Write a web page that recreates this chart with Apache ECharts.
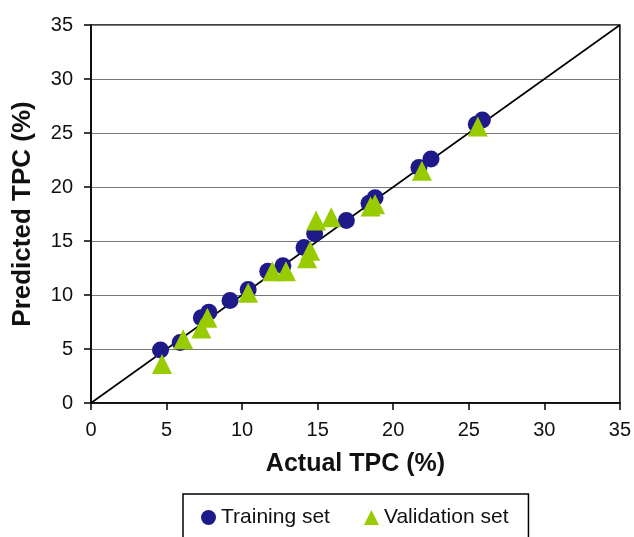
<!DOCTYPE html>
<html><head><meta charset="utf-8">
<script src="https://cdn.jsdelivr.net/npm/echarts@6/dist/echarts.min.js"></script>
<style>html,body{margin:0;padding:0;background:#fff}#c{width:634px;height:537px}</style>
</head><body><div id="c"></div>
<script>
const xTicks = [0,5,10,15,20,25,30,35];
const yTicks = [0,5,10,15,20,25,30,35];
const trainingSet = [
  [4.6,4.9],[5.9,5.6],[7.3,7.9],[7.8,8.4],[9.2,9.5],[10.4,10.5],
  [11.7,12.2],[12.7,12.7],[14.1,14.4],[14.8,15.7],[16.9,16.9],
  [18.4,18.5],[18.8,19.0],[21.7,21.8],[22.5,22.6],[25.5,25.8],[25.9,26.2]
];
const validationSet = [
  [4.7,3.6],[6.1,5.9],[7.3,6.9],[7.7,7.9],[10.4,10.2],[12.0,12.2],
  [12.9,12.2],[14.3,13.4],[14.5,14.1],[14.9,16.9],[15.9,17.2],
  [18.5,18.2],[18.8,18.4],[21.9,21.5],[25.6,25.6]
];
const identityLine = [[0,0],[35,35]];
const chart = echarts.init(document.getElementById('c'));
const font = 'Liberation Sans, Arial, sans-serif';
chart.setOption({
  animation:false,
  grid:{left:91,right:13,top:25,bottom:134,show:true,borderColor:'#000',borderWidth:1.5},
  xAxis:{type:'value',min:xTicks[0],max:xTicks[xTicks.length-1],interval:5,
    name:'Actual TPC (%)',nameLocation:'middle',nameGap:49,
    nameTextStyle:{fontFamily:font,fontSize:25,fontWeight:'bold',color:'#111'},
    axisLine:{show:true,lineStyle:{color:'#000',width:1.5}},
    axisTick:{show:true,length:7,lineStyle:{color:'#000',width:1.5}},
    axisLabel:{fontFamily:font,fontSize:20,color:'#111',margin:17},
    splitLine:{show:false}},
  yAxis:{type:'value',min:yTicks[0],max:yTicks[yTicks.length-1],interval:5,
    name:'Predicted TPC (%)',nameLocation:'middle',nameGap:55,
    nameTextStyle:{fontFamily:font,fontSize:26,fontWeight:'bold',color:'#111'},
    axisLine:{show:true,lineStyle:{color:'#000',width:1.5}},
    axisTick:{show:true,length:7,lineStyle:{color:'#000',width:1.5}},
    axisLabel:{fontFamily:font,fontSize:20,color:'#111',margin:18},
    splitLine:{show:true,lineStyle:{color:'#777',width:1.2}}},
  legend:{left:183,top:494,orient:'horizontal',
    borderColor:'#000',borderWidth:1.5,padding:[13,20,40,18],itemGap:34,
    itemWidth:15,itemHeight:15,
    textStyle:{fontFamily:font,fontSize:21,color:'#111'},
    data:[{name:'Training set',icon:'circle'},{name:'Validation set',icon:'triangle'}]},
  series:[
    {type:'line',data:identityLine,symbol:'none',silent:true,
      lineStyle:{color:'#000',width:1.6},z:1},
    {name:'Training set',type:'scatter',data:trainingSet,symbol:'circle',symbolSize:17,
      itemStyle:{color:'#1f1a8a',opacity:1},z:2},
    {name:'Validation set',type:'scatter',data:validationSet,symbol:'triangle',symbolSize:20,
      itemStyle:{color:'#99cc00',opacity:1},z:3}
  ]
});
</script></body></html>
